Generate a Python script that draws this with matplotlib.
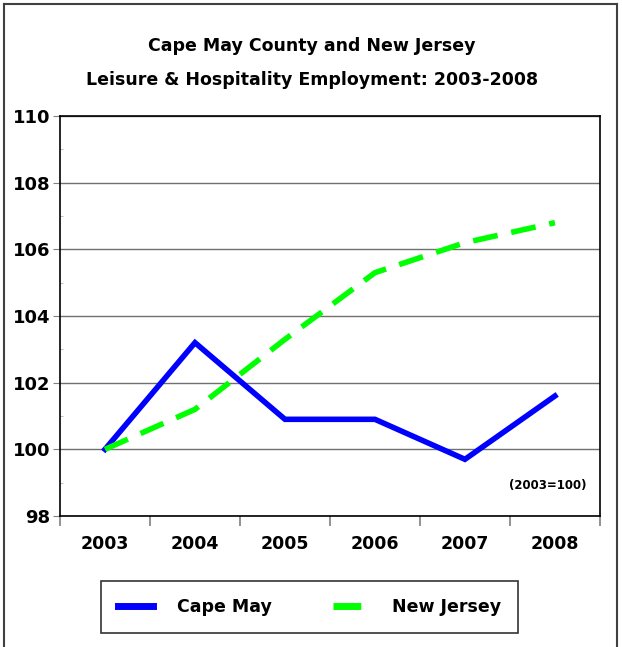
import matplotlib
matplotlib.use("Agg")
import matplotlib.pyplot as plt
from matplotlib.lines import Line2D
from matplotlib.ticker import MultipleLocator

# Index values (2003 = 100)
years = ["2003", "2004", "2005", "2006", "2007", "2008"]
cape_may = [100.0, 103.2, 100.9, 100.9, 99.7, 101.6]
new_jersey = [100.0, 101.2, 103.3, 105.3, 106.2, 106.8]

fig = plt.figure(figsize=(6.22, 6.47), dpi=100)
ax = fig.add_axes([0.0965, 0.2025, 0.868, 0.6182])

x = list(range(len(years)))
ax.plot(x, cape_may, color="#0000ff", lw=4, solid_joinstyle="miter", label="Cape May")
ax.plot(x, new_jersey, color="#00ff00", lw=4, dashes=(4.5, 2.5), label="New Jersey")

ax.set_xlim(-0.5, 5.5)
ax.set_ylim(98, 110)
ax.yaxis.set_major_locator(MultipleLocator(2))
ax.yaxis.set_minor_locator(MultipleLocator(1))
ax.grid(axis="y", which="major", color="#707070", lw=1)
ax.set_axisbelow(True)

ax.set_xticks([i - 0.5 for i in range(len(years) + 1)], minor=False)
ax.set_xticklabels([])
ax.set_xticks(x, minor=True)
ax.set_xticklabels(years, minor=True, fontsize=12.5, fontweight="bold")
ax.tick_params(axis="x", which="major", length=7, color="#808080", width=1.2)
ax.tick_params(axis="x", which="minor", length=0, pad=14)
ax.tick_params(axis="y", which="major", length=5, color="#808080", labelsize=13, pad=2)
ax.tick_params(axis="y", which="minor", length=2, direction="in", color="#b0b0b0")
for lab in ax.get_yticklabels():
    lab.set_fontweight("bold")

for s in ax.spines.values():
    s.set_color("black")
    s.set_linewidth(1.2)

ax.text(0.904, 0.075, "(2003=100)", transform=ax.transAxes, ha="center", va="center",
        fontsize=8.5, fontweight="bold")

fig.text(0.502, 0.929, "Cape May County and New Jersey", ha="center", va="center",
         fontsize=12.5, fontweight="bold")
fig.text(0.502, 0.876, "Leisure & Hospitality Employment: 2003-2008", ha="center", va="center",
         fontsize=12.5, fontweight="bold")

handles = [Line2D([], [], color="#0000ff", lw=5),
           Line2D([], [], color="#00ff00", lw=5, dashes=(4, 2))]
leg = fig.legend(handles, ["Cape May", "New Jersey"], loc="center",
                 bbox_to_anchor=(0.4975, 0.0618), ncol=2, frameon=True, fancybox=False,
                 edgecolor="black", prop={"size": 12.5, "weight": "bold"},
                 handlelength=2.0, columnspacing=3.5, borderpad=1.0, handletextpad=1.4,
                 borderaxespad=0)
leg.get_frame().set_linewidth(1.2)
leg.set_zorder(5)

# outer frame
fig.add_artist(Line2D([4/622, 4/622], [0, 1 - 4/647], color="#404040", lw=1.5, transform=fig.transFigure))
fig.add_artist(Line2D([4/622, 617/622], [1 - 4/647, 1 - 4/647], color="#404040", lw=1.5, transform=fig.transFigure))
fig.add_artist(Line2D([617/622, 617/622], [0, 1 - 4/647], color="#404040", lw=1.5, transform=fig.transFigure))

fig.savefig("out.png", dpi=100)
